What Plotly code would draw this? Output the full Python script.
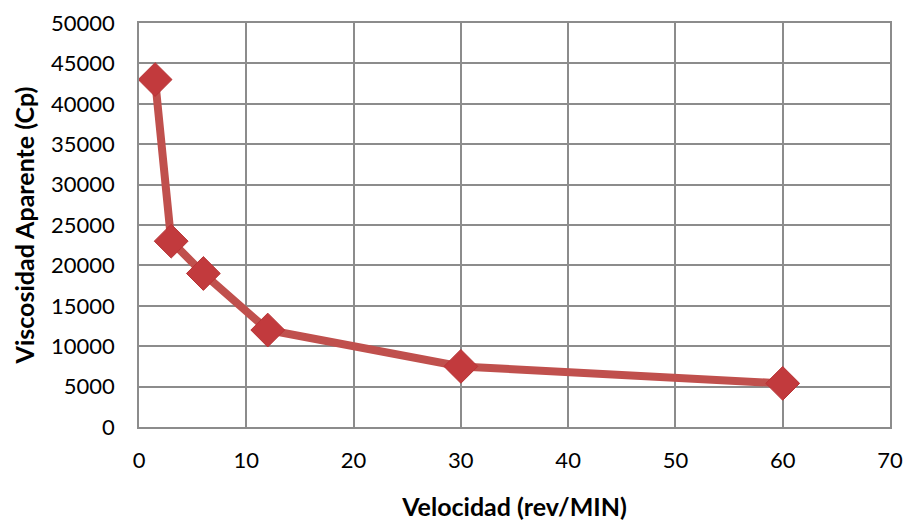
import plotly.graph_objects as go

# Apparent viscosity vs. spindle speed
velocidad = [1.5, 3, 6, 12, 30, 60]
viscosidad = [43000, 23000, 19000, 12000, 7500, 5400]

x_ticks = [0, 10, 20, 30, 40, 50, 60, 70]
y_ticks = [0, 5000, 10000, 15000, 20000, 25000, 30000, 35000, 40000, 45000, 50000]

fig = go.Figure()
fig.add_trace(go.Scatter(
    x=velocidad, y=viscosidad, mode="lines+markers",
    line=dict(color="#C0504D", width=8),
    marker=dict(symbol="diamond", size=26, color="#C23A3D",
                line=dict(color="#B73335", width=1)),
    showlegend=False,
))

axis_font = dict(family="Lato, 'Open Sans', sans-serif", size=22, color="#000000")
title_font = dict(family="Lato, 'Open Sans', sans-serif", size=25, color="#000000")

fig.update_layout(
    width=909, height=521,
    margin=dict(l=139, r=19, t=23, b=94),
    paper_bgcolor="white", plot_bgcolor="white",
    xaxis=dict(
        range=[0, 70], tickvals=x_ticks, ticktext=[str(v) for v in x_ticks],
        showgrid=True, gridcolor="#8C8C8C", gridwidth=1.5,
        showline=True, linecolor="#8C8C8C", linewidth=1.5, mirror=True,
        zeroline=False, tickfont=axis_font, ticks="outside", ticklen=13,
        tickcolor="rgba(0,0,0,0)", automargin=False,
        title=dict(text="<b>Velocidad (rev/MIN)</b>", font=title_font, standoff=27),
    ),
    yaxis=dict(
        range=[0, 50000], tickvals=y_ticks, ticktext=[str(v) for v in y_ticks],
        showgrid=True, gridcolor="#8C8C8C", gridwidth=1.5,
        showline=True, linecolor="#8C8C8C", linewidth=1.5, mirror=True,
        zeroline=False, tickfont=axis_font, ticks="outside", ticklen=18,
        tickcolor="rgba(0,0,0,0)", automargin=False,
        title=dict(text="<b>Viscosidad Aparente (Cp)</b>", font=title_font, standoff=9),
    ),
)

fig.write_html("out.html")
